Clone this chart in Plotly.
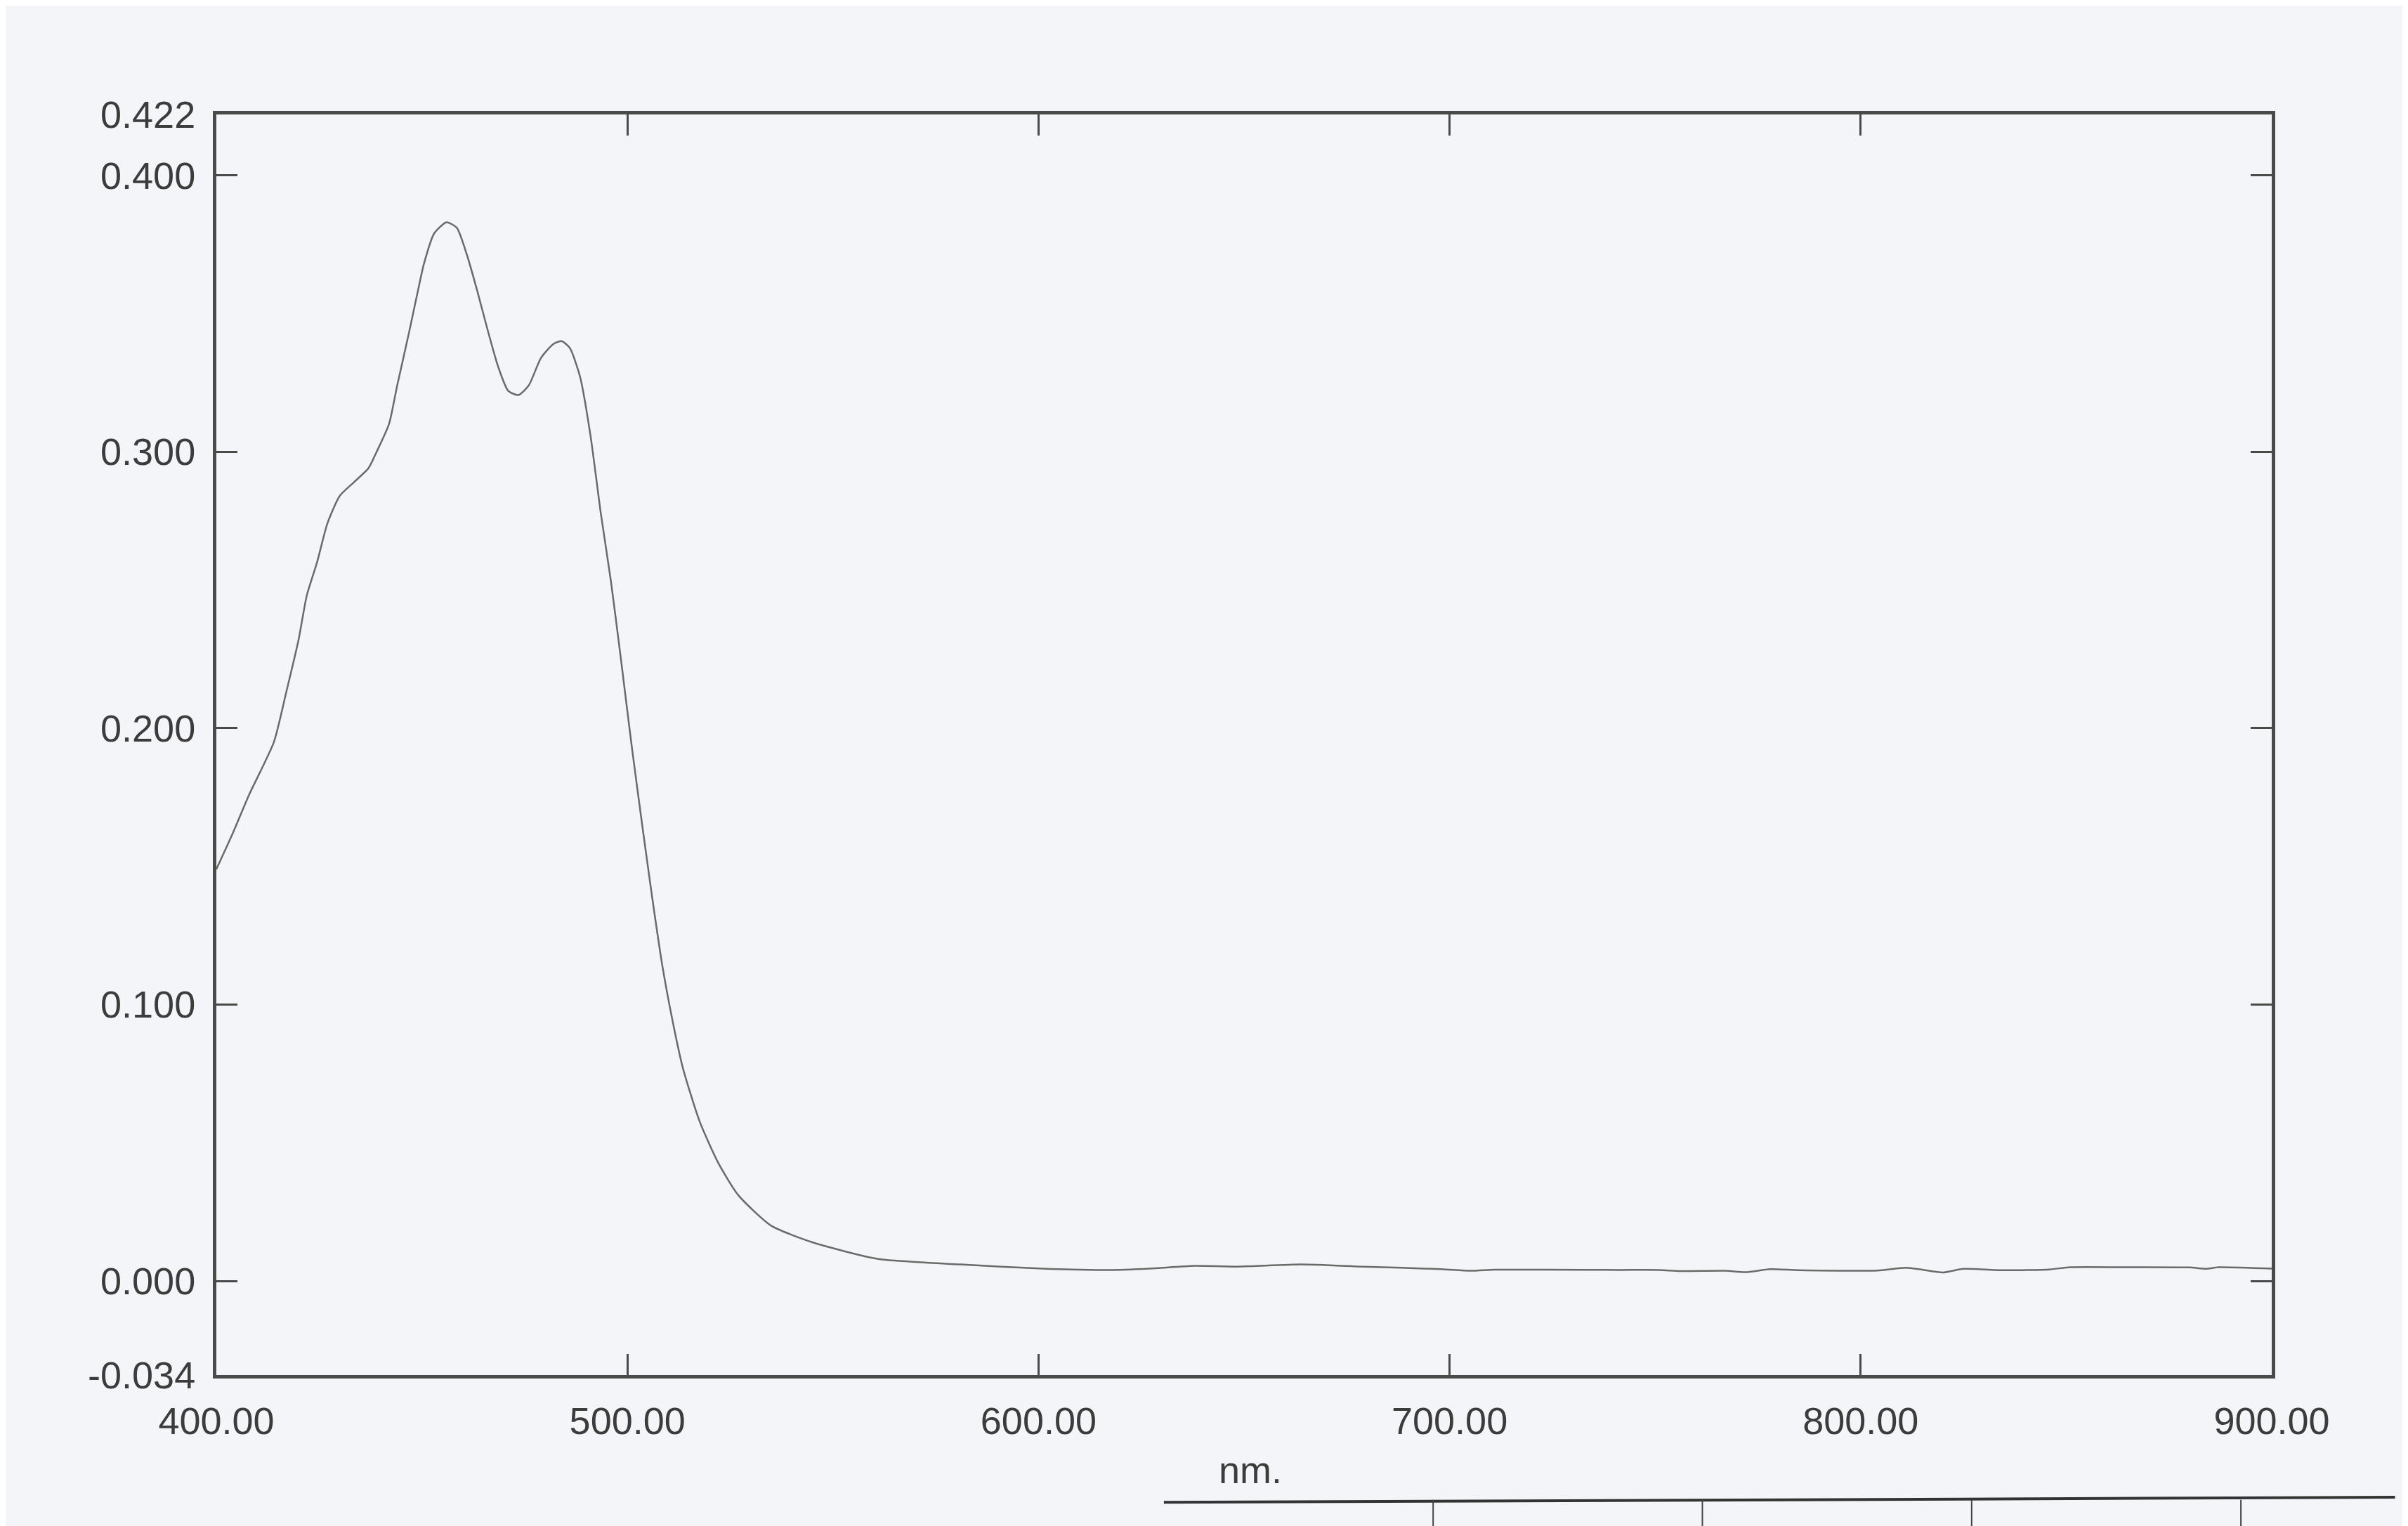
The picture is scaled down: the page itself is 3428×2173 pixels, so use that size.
import plotly.graph_objects as go

# UV-Vis absorption spectrum
wavelength_nm = [
    400.0, 404, 408, 414, 417, 420, 422, 424.5, 427, 430, 433.5, 437, 439, 442, 444,
    447, 449, 450.5, 453, 456, 458.5, 461, 463.5, 466, 468.5, 471, 473.5, 476, 479,
    482, 484, 486, 488.5, 491, 493.5, 496, 498.5, 501, 503.5, 506, 508.5, 511, 513.5,
    517.5, 522, 527, 535, 545, 561, 581, 601, 617, 627, 638, 648, 664, 679, 698, 705,
    711, 724, 741, 751, 756, 767, 772, 778, 785, 804, 811, 815, 820, 825, 835, 846,
    851, 864, 880, 884, 887, 900,
]
absorbance = [
    0.149, 0.162, 0.176, 0.195, 0.213, 0.232, 0.248, 0.260, 0.274, 0.284, 0.289, 0.294,
    0.300, 0.310, 0.324, 0.344, 0.358, 0.368, 0.379, 0.383, 0.381, 0.371, 0.358, 0.344,
    0.331, 0.322, 0.3205, 0.324, 0.334, 0.339, 0.340, 0.3375, 0.327, 0.306, 0.278, 0.253,
    0.224, 0.194, 0.166, 0.139, 0.114, 0.094, 0.077, 0.058, 0.043, 0.031, 0.020, 0.014,
    0.008, 0.006, 0.0045, 0.004, 0.0045, 0.0055, 0.0052, 0.006, 0.0052, 0.0043, 0.0037,
    0.0041, 0.0041, 0.0040, 0.0040, 0.0036, 0.0037, 0.0032, 0.0043, 0.0039, 0.0038,
    0.0048, 0.0041, 0.0031, 0.0044, 0.0039, 0.0042, 0.0050, 0.0050, 0.0049, 0.0044,
    0.0050, 0.0045,
]

x_ticks = [400, 500, 600, 700, 800, 900]
x_tick_labels = ["400.00", "500.00", "600.00", "700.00", "800.00", "900.00"]
y_ticks = [-0.034, 0.0, 0.1, 0.2, 0.3, 0.4, 0.422]
y_tick_labels = ["-0.034", "0.000", "0.100", "0.200", "0.300", "0.400", "0.422"]

PAPER = "#f3f5f8"
INK = "#3c3c3c"
FONT = "Liberation Sans, Arial, sans-serif"

fig = go.Figure()
fig.add_trace(go.Scatter(
    x=wavelength_nm,
    y=absorbance,
    mode="lines",
    line=dict(color="#6a6a6a", width=2.5, shape="spline", smoothing=0.6),
    hoverinfo="x+y",
))

axis_common = dict(
    showgrid=False,
    zeroline=False,
    showline=True,
    linecolor="#4a4a4a",
    linewidth=5,
    mirror="ticks",
    ticks="inside",
    ticklen=30,
    tickwidth=3,
    tickcolor="#4a4a4a",
    tickfont=dict(family=FONT, size=54, color=INK),
)

fig.update_xaxes(
    range=[400, 900],
    tickmode="array",
    tickvals=x_ticks,
    ticktext=x_tick_labels,
    ticklabelstandoff=14,
    **axis_common,
)
fig.update_yaxes(
    range=[-0.034, 0.422],
    tickmode="array",
    tickvals=y_ticks,
    ticktext=y_tick_labels,
    ticklabelstandoff=14,
    **axis_common,
)

# axis unit under the x axis
fig.add_annotation(
    text="nm.", x=0.503, y=-0.075, xref="paper", yref="paper",
    showarrow=False, yanchor="middle",
    font=dict(family=FONT, size=54, color=INK),
)

# ruled line of the printout form at the bottom right of the page
fig.add_shape(type="line", xref="paper", yref="paper",
              x0=0.461, x1=1.06, y0=-0.101, y1=-0.097,
              line=dict(color="#333333", width=4))
for tx in [0.592, 0.723, 0.854, 0.985]:
    fig.add_shape(type="line", xref="paper", yref="paper",
                  x0=tx, x1=tx, y0=-0.099, y1=-0.13,
                  line=dict(color="#444444", width=2))

fig.update_layout(
    width=3428,
    height=2173,
    paper_bgcolor=PAPER,
    plot_bgcolor=PAPER,
    margin=dict(l=300, r=202, t=155, b=223),
    showlegend=False,
)

fig.write_html("out.html")
